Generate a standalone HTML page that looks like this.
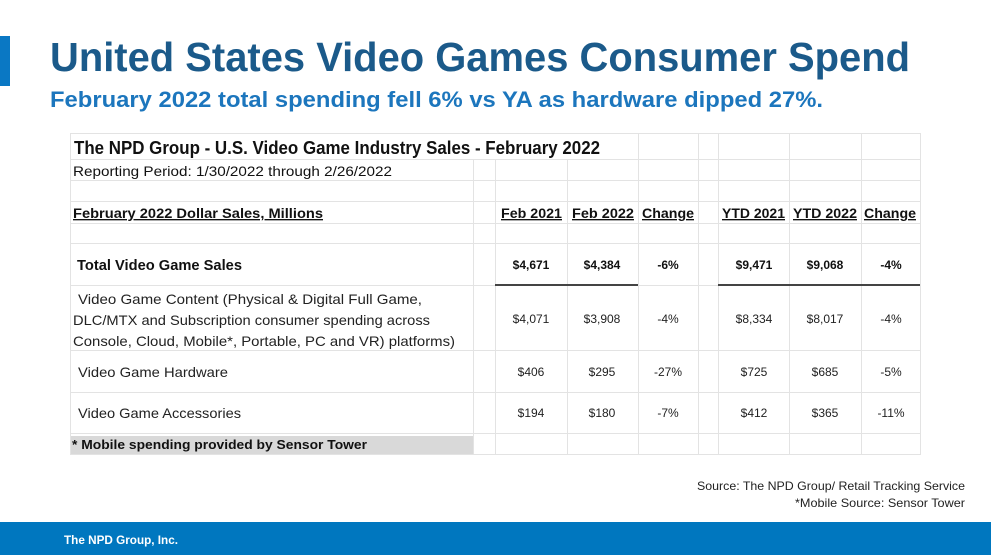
<!DOCTYPE html>
<html><head><meta charset="utf-8"><style>
html,body{margin:0;padding:0;background:#fff;width:991px;height:555px;overflow:hidden}
svg{display:block}
text{font-family:"Liberation Sans",sans-serif}
</style></head><body>
<svg width="991" height="555" viewBox="0 0 991 555" xmlns="http://www.w3.org/2000/svg">
<rect x="0" y="36" width="10" height="50" fill="#0a78c4"/>
<text x="50" y="71" font-size="41" font-weight="bold" fill="#1b5a8a" textLength="860" lengthAdjust="spacingAndGlyphs">United States Video Games Consumer Spend</text>
<text x="50" y="107" font-size="22" font-weight="bold" fill="#1c76bd" textLength="773" lengthAdjust="spacingAndGlyphs">February 2022 total spending fell 6% vs YA as hardware dipped 27%.</text>

<!-- table grid -->
<rect x="70" y="436" width="404" height="18" fill="#d9d9d9"/>
<g stroke="#e3e3e3" stroke-width="1" fill="none">
<rect x="70.5" y="133.5" width="850" height="321"/>
<line x1="70" y1="159.5" x2="920" y2="159.5"/>
<line x1="70" y1="180.5" x2="920" y2="180.5"/>
<line x1="70" y1="201.5" x2="920" y2="201.5"/>
<line x1="70" y1="223.5" x2="920" y2="223.5"/>
<line x1="70" y1="243.5" x2="920" y2="243.5"/>
<line x1="70" y1="285.5" x2="920" y2="285.5"/>
<line x1="70" y1="350.5" x2="920" y2="350.5"/>
<line x1="70" y1="392.5" x2="920" y2="392.5"/>
<line x1="70" y1="433.5" x2="920" y2="433.5"/>
<line x1="473.5" y1="159" x2="473.5" y2="454"/>
<line x1="495.5" y1="159" x2="495.5" y2="454"/>
<line x1="567.5" y1="159" x2="567.5" y2="454"/>
<line x1="638.5" y1="133" x2="638.5" y2="454"/>
<line x1="698.5" y1="133" x2="698.5" y2="454"/>
<line x1="718.5" y1="133" x2="718.5" y2="454"/>
<line x1="789.5" y1="133" x2="789.5" y2="454"/>
<line x1="861.5" y1="133" x2="861.5" y2="454"/>
</g>
<g stroke="#444" stroke-width="2">
<line x1="495" y1="285" x2="638" y2="285"/>
<line x1="718" y1="285" x2="920" y2="285"/>
</g>

<g fill="#111">
<text x="74" y="154" font-size="18" font-weight="bold" textLength="526" lengthAdjust="spacingAndGlyphs">The NPD Group - U.S. Video Game Industry Sales - February 2022</text>
<text x="73" y="176" font-size="14" textLength="319" lengthAdjust="spacingAndGlyphs">Reporting Period: 1/30/2022 through 2/26/2022</text>
<g font-size="13.5" font-weight="bold" text-decoration="underline">
<text x="73" y="218" textLength="250" lengthAdjust="spacingAndGlyphs">February 2022 Dollar Sales, Millions</text>
<text x="501" y="218" textLength="61" lengthAdjust="spacingAndGlyphs">Feb 2021</text>
<text x="572" y="218" textLength="62" lengthAdjust="spacingAndGlyphs">Feb 2022</text>
<text x="642" y="218" textLength="52" lengthAdjust="spacingAndGlyphs">Change</text>
<text x="722" y="218" textLength="63" lengthAdjust="spacingAndGlyphs">YTD 2021</text>
<text x="793" y="218" textLength="64" lengthAdjust="spacingAndGlyphs">YTD 2022</text>
<text x="864" y="218" textLength="52" lengthAdjust="spacingAndGlyphs">Change</text>
</g>
<text x="77" y="270" font-size="14.5" font-weight="bold" textLength="165" lengthAdjust="spacingAndGlyphs">Total Video Game Sales</text>
<g font-size="12" font-weight="bold" text-anchor="middle">
<text x="531" y="269">$4,671</text><text x="602" y="269">$4,384</text><text x="668" y="269">-6%</text>
<text x="754" y="269">$9,471</text><text x="825" y="269">$9,068</text><text x="891" y="269">-4%</text>
</g>
<g font-size="14" fill="#222">
<text x="78" y="304" textLength="344" lengthAdjust="spacingAndGlyphs">Video Game Content (Physical &amp; Digital Full Game,</text>
<text x="73" y="325" textLength="357" lengthAdjust="spacingAndGlyphs">DLC/MTX and Subscription consumer spending across</text>
<text x="73" y="346" textLength="382" lengthAdjust="spacingAndGlyphs">Console, Cloud, Mobile*, Portable, PC and VR) platforms)</text>
<text x="78" y="377" textLength="150" lengthAdjust="spacingAndGlyphs">Video Game Hardware</text>
<text x="78" y="418" textLength="163" lengthAdjust="spacingAndGlyphs">Video Game Accessories</text>
</g>
<g font-size="12" text-anchor="middle" fill="#222">
<text x="531" y="323">$4,071</text><text x="602" y="323">$3,908</text><text x="668" y="323">-4%</text>
<text x="754" y="323">$8,334</text><text x="825" y="323">$8,017</text><text x="891" y="323">-4%</text>
<text x="531" y="376">$406</text><text x="602" y="376">$295</text><text x="668" y="376">-27%</text>
<text x="754" y="376">$725</text><text x="825" y="376">$685</text><text x="891" y="376">-5%</text>
<text x="531" y="417">$194</text><text x="602" y="417">$180</text><text x="668" y="417">-7%</text>
<text x="754" y="417">$412</text><text x="825" y="417">$365</text><text x="891" y="417">-11%</text>
</g>
<text x="72" y="449" font-size="12.5" font-weight="bold" textLength="295" lengthAdjust="spacingAndGlyphs">* Mobile spending provided by Sensor Tower</text>
</g>

<g font-size="12" fill="#222" text-anchor="end">
<text x="965" y="490" textLength="268" lengthAdjust="spacingAndGlyphs">Source: The NPD Group/ Retail Tracking Service</text>
<text x="965" y="507" textLength="170" lengthAdjust="spacingAndGlyphs">*Mobile Source: Sensor Tower</text>
</g>
<rect x="0" y="522" width="991" height="33" fill="#0077bf"/>
<text x="64" y="544" font-size="12" font-weight="bold" fill="#fff" textLength="114" lengthAdjust="spacingAndGlyphs">The NPD Group, Inc.</text>
</svg>
</body></html>
